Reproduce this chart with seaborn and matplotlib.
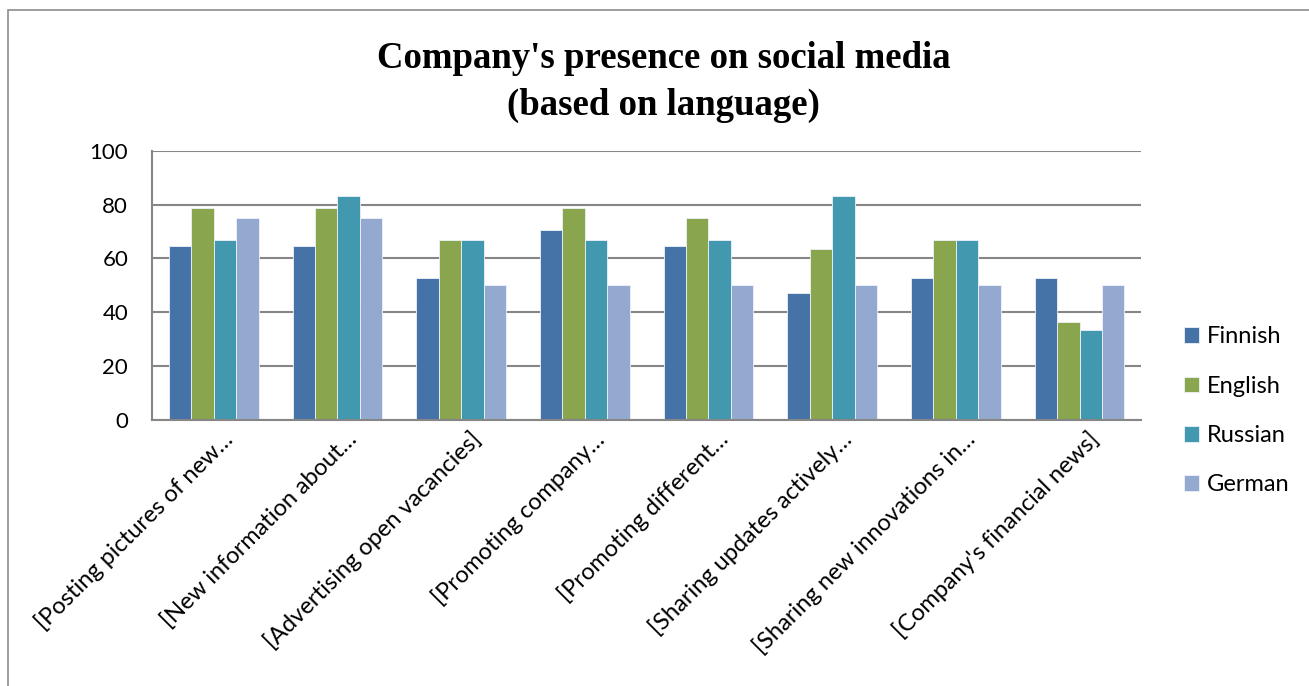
import matplotlib
matplotlib.use("Agg")
import matplotlib.pyplot as plt
from matplotlib.patches import Rectangle
from matplotlib.transforms import ScaledTranslation
import pandas as pd
import seaborn as sns

categories = [
    "[Posting pictures of new…",
    "[New information about…",
    "[Advertising open vacancies]",
    "[Promoting company…",
    "[Promoting different…",
    "[Sharing updates actively…",
    "[Sharing new innovations in…",
    "[Company's financial news]",
]
languages = ["Finnish", "English", "Russian", "German"]
finnish = [64.7, 64.7, 52.9, 70.6, 64.7, 47.1, 52.9, 52.9]
english = [78.6, 78.6, 66.7, 78.6, 75.0, 63.6, 66.7, 36.4]
russian = [66.7, 83.3, 66.7, 66.7, 66.7, 83.3, 66.7, 33.3]
german = [75.0, 75.0, 50.0, 50.0, 50.0, 50.0, 50.0, 50.0]
colors = ["#4572A7", "#89A54E", "#4198AF", "#93A9CF"]
y_ticks = [0, 20, 40, 60, 80, 100]

rows = []
for lang, vals in zip(languages, [finnish, english, russian, german]):
    for cat, v in zip(categories, vals):
        rows.append({"category": cat, "language": lang, "value": v})
df = pd.DataFrame(rows)

sns.set_theme(style="white")
plt.rcParams["font.family"] = ["Lato", "DejaVu Sans"]
plt.rcParams["text.color"] = "black"

fig = plt.figure(figsize=(13.09, 6.86), dpi=100)
ax = fig.add_axes([0.116, 0.388, 0.756, 0.392])

sns.barplot(data=df, x="category", y="value", hue="language",
            hue_order=languages, order=categories, palette=colors,
            width=0.725, saturation=1, edgecolor="#eef2f8", linewidth=0.6,
            ax=ax, legend=True)

ax.set_ylim(0, 100)
ax.set_xlim(-0.5, len(categories) - 0.5)
ax.set_yticks(y_ticks)
ax.set_yticklabels([str(t) for t in y_ticks], fontsize=16, color="black")
ax.set_xlabel("")
ax.set_ylabel("")
ax.yaxis.grid(True, color="#868686", linewidth=1.5)
ax.set_axisbelow(True)
for side in ["top", "right"]:
    ax.spines[side].set_visible(False)
for side in ["left", "bottom"]:
    ax.spines[side].set_color("#868686")
    ax.spines[side].set_linewidth(1.5)
ax.tick_params(axis="y", length=0, pad=17)
ax.tick_params(axis="x", length=0, pad=0)

# rotated category labels: right end sits a little right of and below each tick
shift = ScaledTranslation(16 / 100, -16 / 100, fig.dpi_scale_trans)
for lab in ax.get_xticklabels():
    lab.set_rotation(45)
    lab.set_ha("right")
    lab.set_va("center")
    lab.set_rotation_mode("anchor")
    lab.set_fontsize(17)
    lab.set_color("black")
    lab.set_transform(lab.get_transform() + shift)

handles, labels = ax.get_legend_handles_labels()
ax.get_legend().remove()
fig.legend(handles, labels, loc="center left", bbox_to_anchor=(0.888, 0.401),
           frameon=False, fontsize=17, handlelength=0.64, handleheight=0.64,
           handletextpad=0.34, labelspacing=1.2)

fig.text(0.507, 1 - 82 / 686, "Company's presence on social media\n(based on language)",
         ha="center", va="center", fontsize=26.5, fontweight="bold", color="black",
         family=["Liberation Serif", "DejaVu Serif"], linespacing=1.42)

fig.patches.append(Rectangle((0.006, -0.05), 1.05, 1.035, transform=fig.transFigure,
                             fill=False, edgecolor="#8c8c8c", linewidth=1.2))

fig.savefig("out.png", dpi=100)
